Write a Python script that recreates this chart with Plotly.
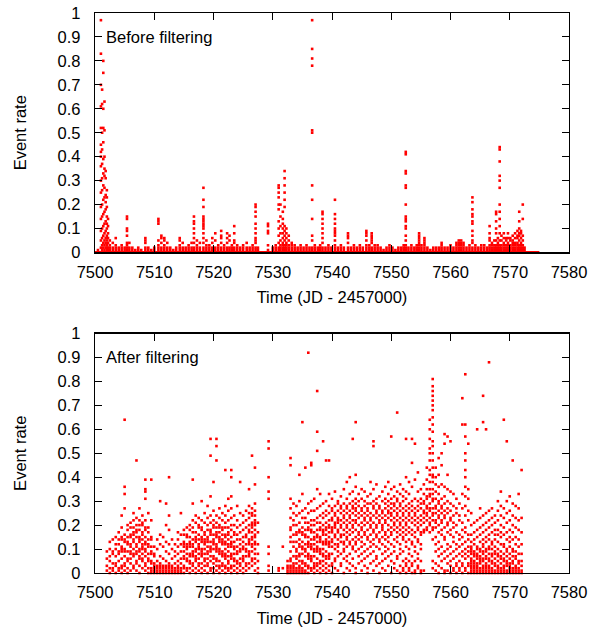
import plotly.graph_objects as go

# ---------------- data: "Before filtering" (time in JD-2457000, rate in hundredths) -------------
before_days = [7500.5, 7501.0, 7501.2, 7501.4, 7501.6, 7501.8, 7502.0, 7502.2, 7502.5, 7503.0,
               7503.5, 7504.0, 7504.5, 7505.0, 7505.4, 7505.8, 7506.3, 7506.8, 7507.3, 7507.8,
               7508.5, 7509.0, 7509.5, 7510.0, 7510.7, 7511.2, 7511.7, 7512.2, 7512.7, 7513.2,
               7513.7, 7514.3, 7514.8, 7515.3, 7515.8, 7516.3, 7516.7, 7517.2, 7517.7, 7518.3,
               7518.8, 7519.3, 7519.8, 7520.3, 7520.8, 7521.3, 7521.8, 7522.3, 7522.7, 7523.1,
               7523.5, 7524.0, 7524.5, 7525.0, 7525.6, 7526.1, 7526.6, 7527.1, 7527.5, 7529.2,
               7530.0, 7530.5, 7531.0, 7531.3, 7531.7, 7532.0, 7532.3, 7532.7, 7533.2, 7533.7,
               7534.2, 7534.7, 7535.2, 7535.7, 7536.2, 7536.65, 7537.1, 7537.6, 7538.0, 7538.4,
               7538.9, 7539.4, 7539.9, 7540.5, 7541.0, 7541.5, 7542.0, 7542.7, 7543.2, 7543.7,
               7544.2, 7544.7, 7545.2, 7545.8, 7546.3, 7546.7, 7547.2, 7547.7, 7548.2, 7548.7,
               7549.2, 7549.7, 7550.2, 7550.7, 7551.2, 7551.7, 7552.1, 7552.45, 7552.9, 7553.4,
               7553.9, 7554.3, 7554.7, 7555.1, 7555.6, 7556.1, 7556.6, 7557.1, 7557.6, 7558.1,
               7558.5, 7559.0, 7559.5, 7560.0, 7560.5, 7561.0, 7561.4, 7561.8, 7562.2, 7562.7,
               7563.2, 7563.7, 7564.2, 7564.7, 7565.2, 7565.7, 7566.2, 7566.6, 7567.0, 7567.4,
               7567.7, 7568.0, 7568.3, 7568.6, 7569.0, 7569.4, 7569.7, 7570.1, 7570.5, 7570.9,
               7571.3, 7571.6, 7571.9, 7572.2, 7572.5]

before_pct = [
    [0, 1],
    [0, 2, 5, 9, 14, 19, 25, 30, 36, 40, 42, 45, 52, 61, 70, 83, 97],
    [1, 3, 6, 10, 15, 20, 26, 31, 37, 43, 50, 62, 68],
    [0, 2, 4, 7, 11, 16, 22, 28, 33, 39, 46, 52, 60, 75, 80],
    [1, 3, 5, 8, 12, 17, 23, 27, 32, 35, 40, 51, 63],
    [0, 2, 4, 6, 9, 13, 18, 21, 24, 31, 34],
    [1, 2, 3, 5, 7, 10, 12, 15, 19, 23, 26],
    [0, 1, 2, 4, 6, 8, 11, 14],
    [0, 1, 2, 3, 5],
    [0, 1, 2, 4],
    [0, 1, 2, 3, 6],
    [0, 1, 2],
    [0, 1, 2, 3],
    [0, 1, 2],
    [0, 1, 2, 3, 4, 7, 9, 10, 14, 15],
    [0, 1, 2, 4],
    [0, 1, 2],
    [0, 1],
    [0, 1, 2],
    [0, 1],
    [0, 1, 2, 4, 5, 6],
    [0, 1, 2],
    [0, 1],
    [0, 1, 2],
    [0, 1, 2, 3, 5, 12, 13, 14],
    [0, 1, 2, 4, 6, 7],
    [0, 1, 2, 3, 5, 6],
    [0, 1, 2, 4],
    [0, 1, 2],
    [0, 1],
    [0, 1, 2],
    [0, 1, 2, 3, 5, 6],
    [0, 1, 2, 4],
    [0, 1, 2],
    [0, 1, 2, 3],
    [0, 1, 2, 4],
    [0, 1, 2, 4, 6, 8, 10, 12, 13, 15],
    [0, 1, 2, 3, 5],
    [0, 1, 2, 4],
    [0, 1, 2, 4, 6, 8, 10, 11, 12, 13, 14, 15, 19, 22, 27],
    [0, 1, 2, 3, 5],
    [0, 1, 2, 3],
    [0, 1, 2, 4, 6],
    [0, 1, 2, 5, 8],
    [0, 1, 2, 3],
    [0, 1, 2, 4, 6, 7, 9],
    [0, 1, 2, 3],
    [0, 1, 2, 4, 6, 8],
    [0, 1, 2, 5, 7],
    [0, 1, 2, 3],
    [0, 1, 2, 4, 5, 8, 11],
    [0, 1, 2, 3],
    [0, 1, 2],
    [0, 1, 2, 3],
    [0, 1, 2, 4],
    [0, 1, 2],
    [0, 1, 2, 3],
    [0, 1, 2, 4, 5, 6, 8, 10, 12, 15, 17, 19, 20],
    [0, 1, 2],
    [1, 3, 8, 9, 11, 12],
    [0, 1, 2],
    [0, 1, 2, 3],
    [0, 1, 2, 4, 7, 10, 13, 18, 20, 23, 25, 27, 28],
    [0, 1, 2, 3, 5, 8, 11, 15, 20],
    [0, 1, 2, 3, 4, 6, 8, 10, 12, 14, 17],
    [0, 1, 2, 3, 5, 7, 9, 11, 19, 22, 25, 28, 31, 34],
    [0, 1, 2, 3, 4, 6, 8, 10],
    [0, 1, 2, 3, 5, 7],
    [0, 1, 2, 3, 4],
    [0, 1, 2, 3],
    [0, 1, 2],
    [0, 1, 2, 3],
    [0, 1, 2],
    [0, 1, 2, 3],
    [0, 1, 2],
    [0, 1, 2, 5, 7, 14, 22, 28, 50, 51, 78, 81, 85, 97],
    [0, 1, 2, 3],
    [0, 1, 2],
    [0, 1, 2, 3],
    [0, 1, 2, 4, 6, 8, 10, 12, 14, 16, 17],
    [0, 1, 2],
    [0, 1, 2, 3],
    [0, 1, 2],
    [0, 1, 2, 3, 5, 7, 8, 9, 10, 12, 14, 16, 22],
    [0, 1, 2],
    [0, 1, 2, 3],
    [0, 1, 2],
    [0, 1, 2, 4, 6, 7, 8],
    [0, 1, 2],
    [0, 1, 2, 3],
    [0, 1, 2],
    [0, 1, 2, 3],
    [0, 1, 2],
    [0, 1, 2, 3, 5, 7, 8, 9],
    [0, 1, 2, 3],
    [0, 1, 2, 4, 5, 6, 7, 8],
    [0, 1, 2, 3],
    [0, 1, 2, 3],
    [0, 1, 2],
    [0, 1],
    [0, 1, 2],
    [0, 1, 2, 3],
    [0, 1, 2],
    [0, 1],
    [0, 1, 2],
    [0, 1, 2],
    [0, 1, 2, 3],
    [0, 1, 2, 3, 5, 7, 10, 11, 13, 14, 15, 20, 27, 28, 33, 34, 41, 42],
    [0, 1, 2],
    [0, 1, 2, 3],
    [0, 1, 2],
    [0, 1, 2, 3],
    [0, 1, 2, 3, 4, 5, 6, 7, 8],
    [0, 1, 2, 3],
    [0, 1, 2, 3, 4, 5, 6],
    [0, 1, 2],
    [0, 1],
    [0, 1, 2],
    [0, 1, 2],
    [0, 1, 2],
    [0, 1, 2, 3, 4],
    [0, 1, 2],
    [0, 1, 2],
    [0, 1, 2, 3],
    [0, 1, 2],
    [0, 1, 2, 3, 4],
    [0, 1, 2, 3, 4, 5],
    [0, 1, 2, 3, 4, 5],
    [0, 1, 2, 3, 4],
    [0, 1, 2],
    [0, 1, 2, 3],
    [0, 1, 2, 4, 5, 7, 9, 12, 13, 15, 16, 18, 21, 23],
    [0, 1, 2, 3],
    [0, 1, 2],
    [0, 1, 2, 3],
    [0, 1, 2, 3],
    [0, 1, 2],
    [0, 1, 2, 3, 5, 6, 8, 11],
    [0, 1, 2, 3, 4],
    [0, 1, 2, 3, 5],
    [0, 1, 2, 3, 5, 8, 10, 13, 16, 17],
    [0, 1, 2, 3, 4, 6],
    [0, 1, 2, 3, 5, 8, 11, 14, 17, 20, 27, 30, 32, 38, 43, 44],
    [0, 1, 2, 3, 5, 7],
    [0, 1, 2, 3, 4, 6, 8],
    [0, 1, 2, 3, 5, 6],
    [0, 1, 2, 3, 4, 6, 8],
    [0, 1, 2, 3, 5, 6],
    [0, 1, 2, 3, 4, 5, 7],
    [0, 1, 2, 3, 4, 6, 8],
    [0, 1, 2, 3, 4, 6, 7, 9],
    [0, 1, 2, 3, 5, 7, 8, 10, 13, 17],
    [0, 1, 2, 3, 4, 6, 8, 9],
    [0, 1, 2, 3, 5, 7, 14, 20],
    [0, 1, 2],
]

# zero-rate run along the baseline of the "before" panel
before_zero_days = [7500.0, 7575.0]
before_zero_rate = [0.0, 0.0]

# ---------------- data: "After filtering" ----------------
after_days = [7502.0, 7502.5, 7503.0, 7503.5, 7504.0, 7504.5, 7505.0, 7505.5, 7506.0, 7506.5,
              7507.0, 7507.5, 7508.0, 7508.5, 7509.0, 7509.5, 7510.0, 7510.5, 7511.0, 7511.5,
              7512.0, 7512.5, 7513.0, 7513.5, 7514.0, 7514.5, 7515.0, 7515.5, 7516.0, 7516.5,
              7517.0, 7517.5, 7518.0, 7518.5, 7519.0, 7519.5, 7520.0, 7520.5, 7521.0, 7521.5,
              7522.0, 7522.5, 7523.0, 7523.5, 7524.0, 7524.5, 7525.0, 7525.5, 7526.0, 7526.5,
              7527.0, 7527.5, 7529.3, 7531.0, 7531.7,
              7532.5, 7533.0, 7533.5, 7534.0, 7534.5, 7535.0, 7535.5, 7536.0, 7536.5, 7537.0,
              7537.5, 7538.0, 7538.5, 7539.0, 7539.5, 7540.0, 7540.5, 7541.0, 7541.5, 7542.0,
              7542.5, 7543.0, 7543.5, 7544.0, 7544.5, 7545.0, 7545.5, 7546.0, 7546.5, 7547.0,
              7547.5, 7548.0, 7548.5, 7549.0, 7549.5, 7550.0, 7550.5, 7551.0, 7551.5, 7552.0,
              7552.5, 7553.0, 7553.5, 7554.0, 7554.5, 7555.0, 7555.5, 7556.0, 7556.5, 7557.0,
              7557.5, 7558.0, 7558.5, 7559.0, 7559.5, 7560.0, 7560.5, 7561.0, 7561.5, 7562.0,
              7562.5, 7563.0, 7563.5, 7564.0, 7564.5, 7565.0, 7565.5, 7566.0, 7566.5, 7567.0,
              7567.5, 7568.0, 7568.5, 7569.0, 7569.5, 7570.0, 7570.5, 7571.0, 7571.5, 7572.0]

after_pct = [
    [1, 3, 6, 9],
    [0, 2, 5, 7, 10, 13],
    [1, 2, 4, 8, 9, 14],
    [0, 3, 4, 7, 10, 12, 15],
    [1, 2, 5, 8, 9, 12, 14, 17],
    [0, 2, 3, 6, 9, 10, 11, 14, 15, 19, 24],
    [1, 3, 4, 7, 9, 10, 13, 14, 16, 27, 33, 36, 64],
    [0, 2, 5, 6, 9, 12, 13, 15, 18, 20],
    [1, 4, 6, 8, 9, 11, 12, 15, 16, 19, 21],
    [2, 3, 7, 8, 10, 13, 14, 16, 17, 19, 22, 25],
    [1, 4, 5, 8, 9, 11, 12, 15, 17, 18, 20, 23, 47],
    [0, 3, 6, 7, 9, 10, 13, 14, 15, 18, 20, 22, 27],
    [2, 5, 6, 8, 10, 11, 12, 14, 16, 17, 20, 21, 24],
    [1, 3, 4, 7, 9, 10, 12, 13, 15, 18, 19, 22, 31, 34, 35, 39],
    [0, 2, 5, 6, 8, 11, 12, 14, 17, 19, 25],
    [0, 1, 2, 4, 5, 8, 9, 11, 14, 15, 22, 39],
    [0, 1, 2, 3, 4, 7, 8, 11],
    [0, 1, 2, 3, 5, 10, 14],
    [0, 1, 2, 3, 4, 7, 12, 16, 30],
    [0, 1, 2, 3, 6, 11, 15],
    [0, 1, 2, 3, 5, 9, 13, 20, 29],
    [0, 1, 2, 3, 4, 8, 12, 18, 24, 40],
    [0, 1, 2, 3, 6, 10, 14],
    [0, 1, 2, 4, 7, 9, 12],
    [0, 1, 2, 3, 5, 8, 11, 14, 17],
    [0, 1, 2, 4, 6, 9, 12, 16, 25],
    [0, 2, 3, 6, 7, 9, 11, 12, 13, 16, 18],
    [1, 2, 5, 6, 8, 10, 11, 12, 15, 16, 19],
    [0, 2, 4, 5, 7, 8, 11, 12, 13, 15, 18, 20],
    [1, 3, 4, 7, 8, 9, 11, 12, 14, 17, 19, 22, 29, 39],
    [0, 2, 5, 6, 7, 9, 10, 13, 14, 15, 17, 21, 24],
    [1, 3, 4, 6, 8, 10, 11, 12, 14, 16, 19, 20, 23],
    [0, 2, 4, 7, 8, 9, 10, 13, 14, 15, 18, 19, 22, 30],
    [1, 3, 5, 6, 8, 10, 12, 13, 14, 16, 17, 21, 25],
    [0, 3, 4, 6, 8, 9, 11, 13, 14, 15, 18, 20, 23, 28],
    [1, 2, 5, 7, 9, 10, 11, 13, 16, 17, 18, 21, 24, 32, 49, 56],
    [0, 2, 4, 6, 7, 10, 12, 13, 14, 16, 19, 20, 22, 26, 38],
    [1, 3, 5, 6, 9, 10, 11, 12, 15, 16, 17, 19, 21, 24, 47, 53, 56],
    [0, 2, 3, 5, 8, 9, 10, 13, 14, 15, 17, 19, 20, 23, 27],
    [1, 3, 4, 7, 8, 9, 12, 13, 14, 16, 18, 19, 22, 25],
    [0, 2, 3, 6, 7, 8, 10, 12, 13, 15, 16, 19, 21, 24, 28, 43],
    [1, 2, 4, 5, 7, 9, 11, 12, 14, 16, 17, 19, 22, 26, 31],
    [0, 2, 3, 6, 7, 8, 11, 12, 13, 15, 18, 20, 23, 27, 32, 40, 43],
    [1, 3, 5, 6, 8, 10, 11, 13, 16, 17, 20, 24],
    [0, 2, 4, 5, 8, 9, 11, 14, 16, 19, 22, 28],
    [1, 3, 4, 6, 9, 10, 12, 14, 17, 20, 25, 38],
    [0, 2, 5, 6, 7, 10, 11, 13, 15, 18, 21, 24],
    [1, 3, 4, 7, 9, 10, 12, 15, 16, 19, 22, 26],
    [2, 4, 7, 8, 9, 12, 13, 14, 17, 18, 20, 23, 25, 28, 35],
    [3, 5, 6, 9, 11, 12, 14, 15, 17, 19, 20, 21, 24, 25, 27, 49],
    [1, 4, 6, 8, 10, 12, 13, 15, 16, 18, 20, 21, 22, 24, 26, 29, 37, 44],
    [0, 2, 5, 8, 12, 17, 21],
    [1, 3, 8, 11, 31, 34, 40, 52, 55],
    [1, 2],
    [2, 11],
    [0, 1, 2, 3, 5],
    [0, 1, 2, 3, 5, 6, 9, 13, 15, 18, 19, 23, 27, 31, 45, 48],
    [0, 1, 2, 3, 4, 7, 11, 13, 16, 20, 22, 25, 29],
    [0, 1, 2, 4, 6, 7, 9, 10, 13, 16, 17, 20, 24, 28],
    [0, 1, 2, 3, 5, 7, 8, 11, 12, 14, 17, 18, 21, 25, 30, 41],
    [0, 1, 2, 4, 5, 8, 10, 11, 13, 16, 17, 19, 23, 26, 33, 63],
    [0, 1, 3, 4, 7, 9, 10, 12, 15, 16, 18, 21, 23, 27, 44],
    [0, 2, 3, 6, 7, 8, 11, 12, 13, 15, 18, 19, 21, 25, 29, 92],
    [1, 2, 5, 6, 7, 10, 11, 12, 14, 17, 18, 20, 22, 26, 30, 45, 46],
    [0, 2, 3, 4, 7, 9, 10, 12, 14, 15, 17, 20, 22, 26, 31],
    [1, 3, 4, 6, 9, 10, 11, 13, 15, 16, 18, 21, 23, 27, 35, 51, 59, 76],
    [0, 2, 4, 5, 8, 9, 10, 13, 14, 15, 18, 19, 21, 24, 28, 33],
    [1, 3, 5, 7, 8, 10, 12, 13, 16, 17, 18, 20, 23, 25, 29, 55],
    [0, 2, 4, 6, 7, 9, 12, 13, 14, 16, 18, 19, 21, 24, 26, 30, 47],
    [1, 3, 6, 7, 8, 11, 12, 13, 15, 17, 19, 20, 22, 25, 28, 33, 47],
    [0, 3, 4, 8, 11, 13, 14, 17, 18, 19, 22, 23, 26, 27, 31],
    [2, 5, 6, 10, 12, 15, 16, 19, 20, 21, 24, 25, 28, 34],
    [1, 7, 9, 11, 12, 14, 17, 18, 21, 22, 23, 26, 29, 30],
    [3, 4, 8, 13, 15, 16, 19, 20, 22, 25, 27, 28, 32],
    [0, 6, 9, 10, 12, 13, 16, 18, 21, 23, 24, 26, 29, 35],
    [2, 5, 7, 11, 14, 15, 17, 19, 20, 22, 25, 27, 28, 31, 38],
    [1, 4, 8, 12, 13, 16, 18, 21, 23, 24, 26, 29, 33, 40],
    [3, 6, 10, 11, 14, 17, 19, 20, 22, 25, 27, 28, 30, 34, 56],
    [0, 2, 9, 12, 13, 15, 18, 21, 22, 24, 26, 27, 29, 31, 36, 41, 63],
    [4, 7, 10, 14, 16, 17, 20, 23, 25, 28, 30, 33],
    [1, 5, 8, 11, 13, 15, 18, 19, 21, 24, 26, 27, 31, 35],
    [3, 6, 9, 12, 16, 17, 20, 22, 23, 25, 28, 30, 34],
    [0, 2, 7, 10, 14, 15, 18, 21, 24, 26, 27, 29, 32],
    [4, 8, 11, 13, 16, 19, 20, 22, 23, 25, 29, 33, 38],
    [1, 5, 9, 12, 14, 17, 18, 21, 24, 27, 28, 30, 35, 53, 55],
    [3, 6, 7, 11, 15, 16, 19, 20, 23, 25, 26, 29, 31, 37],
    [0, 4, 10, 13, 14, 17, 21, 22, 24, 27, 28, 32],
    [2, 5, 8, 12, 15, 18, 19, 20, 23, 25, 26, 30, 34],
    [1, 6, 9, 11, 14, 16, 17, 21, 22, 24, 27, 29, 31, 36],
    [3, 7, 10, 13, 15, 18, 20, 23, 25, 26, 28, 30, 33, 38],
    [0, 5, 8, 12, 16, 17, 19, 22, 24, 25, 27, 29, 31, 35, 57],
    [2, 4, 9, 11, 14, 18, 20, 21, 23, 26, 28, 29, 32, 36],
    [1, 6, 7, 13, 15, 17, 19, 22, 24, 25, 27, 30, 31, 34, 67],
    [0, 3, 8, 10, 12, 16, 18, 20, 21, 23, 26, 28, 29, 33, 37],
    [1, 2, 5, 9, 14, 15, 17, 19, 22, 24, 25, 27, 30, 32, 35],
    [0, 3, 4, 6, 11, 13, 16, 18, 20, 21, 23, 26, 28, 31, 34, 40, 56],
    [1, 2, 5, 8, 10, 14, 17, 19, 22, 24, 25, 27, 29, 33, 38],
    [0, 3, 4, 7, 12, 13, 16, 18, 21, 23, 26, 28, 30, 36, 46, 56],
    [0, 1, 5, 9, 11, 15, 17, 20, 22, 24, 25, 27, 31, 39, 54],
    [2, 3, 6, 8, 13, 14, 18, 19, 21, 23, 26, 28, 30, 34, 42],
    [0, 1, 5, 10, 12, 16, 17, 20, 22, 24, 27, 29, 31, 35],
    [1, 17, 18, 21, 23, 25, 26, 29, 30, 33, 37],
    [18, 19, 22, 24, 25, 27, 28, 31, 32, 35, 39, 44],
    [17, 20, 21, 23, 26, 27, 29, 32, 33, 35, 38, 41, 43, 47, 50, 52, 56, 60, 64],
    [2, 5, 14, 18, 19, 22, 24, 25, 27, 30, 31, 33, 35, 38, 40, 41, 44, 47, 50, 53, 55, 59, 62,
     65, 68, 70, 72, 74, 76, 78, 81],
    [1, 4, 9, 12, 15, 19, 21, 22, 25, 27, 28, 31, 34, 37, 40, 44],
    [0, 3, 7, 10, 13, 17, 20, 23, 24, 26, 29, 30, 33, 36, 41, 48],
    [2, 5, 8, 11, 16, 18, 21, 22, 25, 27, 28, 31, 37, 45, 50],
    [0, 1, 6, 9, 14, 15, 19, 23, 24, 26, 29, 32, 36, 54, 58],
    [1, 4, 7, 10, 12, 17, 20, 21, 25, 27, 30, 35, 41, 57],
    [0, 3, 5, 8, 11, 16, 18, 22, 23, 26, 29, 34, 55],
    [1, 2, 6, 9, 13, 15, 19, 21, 24, 28, 33],
    [0, 3, 4, 7, 10, 12, 17, 20, 25, 27, 31],
    [1, 2, 5, 8, 11, 14, 16, 22, 24, 29],
    [0, 3, 4, 7, 9, 12, 15, 18, 21, 27, 33, 62, 73],
    [1, 2, 6, 8, 10, 13, 17, 19, 24, 28, 32, 36, 40, 43, 47, 50, 57, 62, 83],
    [0, 3, 4, 7, 9, 11, 14, 16, 22, 26, 31, 35, 54],
    [0, 1, 2, 3, 4, 5, 6, 8, 9, 10, 11, 13, 16, 20, 25],
    [0, 1, 2, 3, 4, 5, 7, 8, 9, 12, 14, 17, 21],
    [0, 1, 2, 3, 4, 6, 7, 8, 10, 11, 15, 18, 22, 60],
    [0, 1, 2, 4, 5, 6, 7, 9, 10, 13, 16, 19, 23, 27],
    [0, 1, 2, 3, 5, 6, 8, 9, 11, 12, 14, 17, 20, 24, 63, 74],
    [0, 1, 2, 3, 4, 6, 7, 9, 10, 13, 15, 18, 21, 25, 60],
    [0, 1, 2, 3, 5, 6, 8, 10, 11, 14, 16, 19, 22, 26, 88],
    [0, 1, 2, 4, 5, 7, 8, 10, 12, 13, 17, 20, 23, 27],
    [0, 1, 3, 4, 6, 8, 9, 11, 14, 16, 18, 21, 24],
    [0, 1, 2, 3, 5, 7, 8, 10, 13, 16, 18, 22, 26, 30],
    [0, 1, 2, 4, 6, 7, 9, 12, 15, 17, 20, 24, 28, 34],
    [0, 1, 2, 3, 5, 6, 8, 11, 12, 16, 19, 23, 27, 64],
    [0, 1, 3, 4, 5, 7, 9, 10, 14, 17, 21, 25, 30, 55],
    [0, 1, 2, 3, 4, 6, 8, 11, 13, 15, 18, 22, 26, 32],
    [0, 1, 2, 4, 5, 7, 9, 10, 14, 17, 20, 24, 29, 47],
    [0, 1, 2, 3, 6, 7, 9, 12, 15, 19, 23, 28],
    [0, 1, 2, 4, 5, 8, 11, 14, 18, 22, 27, 33],
    [0, 1, 3, 5, 8, 12, 17, 23, 43],
]

x_ticks = [7500, 7510, 7520, 7530, 7540, 7550, 7560, 7570, 7580]
y_ticks = [0, 0.1, 0.2, 0.3, 0.4, 0.5, 0.6, 0.7, 0.8, 0.9, 1]
y_tick_labels = ["0", "0.1", "0.2", "0.3", "0.4", "0.5", "0.6", "0.7", "0.8", "0.9", "1"]

assert len(before_days) == len(before_pct)
assert len(after_days) == len(after_pct)


def flatten(days, pcts):
    xs, ys = [], []
    for d, vals in zip(days, pcts):
        for v in vals:
            xs.append(d)
            ys.append(v / 100.0)
    return xs, ys


bx, by = flatten(before_days, before_pct)
ax_, ay = flatten(after_days, after_pct)

FONT = "Liberation Sans, Arial, Helvetica, sans-serif"
RED = "#ff0000"

fig = go.Figure()
fig.add_trace(go.Scatter(x=before_zero_days, y=before_zero_rate, mode="lines",
                         line=dict(color=RED, width=3), xaxis="x", yaxis="y",
                         showlegend=False, hoverinfo="skip", cliponaxis=False))
fig.add_trace(go.Scatter(x=bx, y=by, mode="markers", xaxis="x", yaxis="y",
                         marker=dict(symbol="square", size=2.6, color=RED, line=dict(width=0)),
                         showlegend=False, cliponaxis=False))
fig.add_trace(go.Scatter(x=ax_, y=ay, mode="markers", xaxis="x2", yaxis="y2",
                         marker=dict(symbol="square", size=2.6, color=RED, line=dict(width=0)),
                         showlegend=False, cliponaxis=False))

axis_common = dict(showline=True, mirror="allticks", linecolor="black", linewidth=1.3,
                   ticks="inside", ticklen=7, tickwidth=1, tickcolor="black",
                   showgrid=False, zeroline=False, automargin=False,
                   ticklabeloverflow="allow",
                   tickfont=dict(family=FONT, size=16.5, color="black"))

W, H = 603, 631
m_l, m_r = 95, 34
m_t = 13.3
m_b = H - 572.7
plot_h = H - m_t - m_b
panel_h = 239.2
title_font = dict(family=FONT, size=16.5, color="black")

fig.update_layout(
    template="none",
    width=W, height=H,
    margin=dict(l=m_l, r=m_r, t=m_t, b=m_b, autoexpand=False),
    paper_bgcolor="white", plot_bgcolor="white",
    hovermode=False,
    xaxis=dict(axis_common, range=[7500, 7580], tickvals=x_ticks, anchor="y",
               domain=[0, 1], ticklabelstandoff=4,
               title=dict(text="Time (JD - 2457000)", font=title_font, standoff=12)),
    yaxis=dict(axis_common, range=[0, 1], tickvals=y_ticks, ticktext=y_tick_labels,
               anchor="x", domain=[1 - panel_h / plot_h, 1], ticklabelstandoff=10,
               title=dict(text="Event rate", font=title_font, standoff=26)),
    xaxis2=dict(axis_common, range=[7500, 7580], tickvals=x_ticks, anchor="y2",
                domain=[0, 1], ticklabelstandoff=4,
                title=dict(text="Time (JD - 2457000)", font=title_font, standoff=12)),
    yaxis2=dict(axis_common, range=[0, 1], tickvals=y_ticks, ticktext=y_tick_labels,
                anchor="x2", domain=[0, panel_h / plot_h], ticklabelstandoff=10,
                title=dict(text="Event rate", font=title_font, standoff=26)),
    annotations=[
        dict(text="Before filtering", x=0.018, y=0.9, xref="x domain", yref="y domain",
             xanchor="left", yanchor="middle", showarrow=False, font=title_font),
        dict(text="After filtering", x=0.018, y=0.9, xref="x2 domain", yref="y2 domain",
             xanchor="left", yanchor="middle", showarrow=False, font=title_font),
    ],
)

# remove the browser's default 8px page margin so the figure fills the window exactly
fig.write_html("out.html", config={"displayModeBar": False, "staticPlot": True},
               post_script="document.body.style.margin='0';document.body.style.overflow='hidden';")
